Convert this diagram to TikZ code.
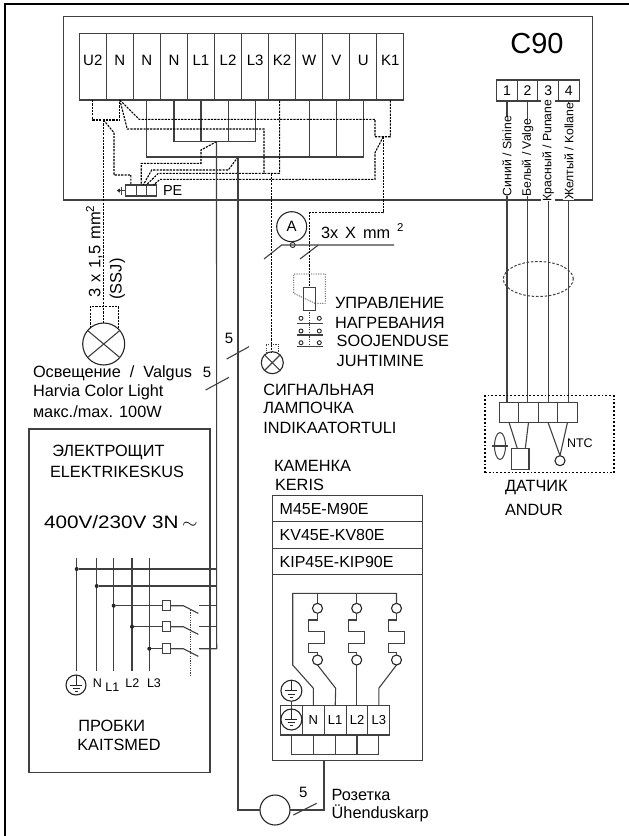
\documentclass[tikz,border=0pt]{standalone}
\usepackage{fontspec}
\setmainfont{Liberation Sans}
\usetikzlibrary{positioning, shapes.geometric}
\tikzset{
x=1pt, y=-1pt, % one unit is one pixel of the sheet, y runs downwards
every node/.style={inner sep=0pt, outer sep=0pt}, % anchors sit on the outlines
wire/.style={black!75, line width=1.1pt}, % solid leads
dwire/.style={black, line width=1.1pt, dash pattern=on 2.2pt off 1.1pt}, % dashed leads
dotwire/.style={black!75, line width=0.8pt, dash pattern=on 1.2pt off 1.2pt}, % dotted parts
box/.style={draw=black!75, line width=1.1pt, rectangle},
term/.style={box, minimum width=27.05pt, minimum height=66.3pt, text height=10pt, text depth=13pt, font=\fontsize{15}{17}\selectfont}, % big terminal strip
cterm/.style={box, minimum width=20.6pt, minimum height=21pt, font=\fontsize{14}{16}\selectfont}, % sensor terminals
aterm/.style={box, minimum width=19.5pt, minimum height=20pt},
hterm/.style={box, minimum width=21.8pt, minimum height=29.3pt, font=\fontsize{13}{15}\selectfont}, % heater terminals
row/.style={box, text width=136pt, inner xsep=7pt, minimum height=26.5pt, align=left, font=\fontsize{16}{18}\selectfont}, % heater model rows
lamp/.style={circle, draw=black!85, line width=1.1pt},
lug/.style={circle, draw=black!85, line width=1.1pt, minimum size=10pt}, % heater connection
contact/.style={circle, draw=black!85, line width=0.9pt, minimum size=4pt},
jdot/.style={circle, fill=black!85, minimum size=4pt},
earth/.style={circle, draw=black!85, line width=1.1pt, minimum size=21pt, path picture={
  \draw[line width=0.8pt] (path picture bounding box.north) -- ++(0,10.5)
    (path picture bounding box.center) ++(-6,0) -- ++(12,0) ++(-9.5,3.2) -- ++(7,0) ++(-5,3) -- ++(3,0);}},
lbl/.style={anchor=west, font=\fontsize{16.3}{18}\selectfont},
side/.style={rotate=90, fill=white, inner ysep=1pt, font=\fontsize{12.2}{14}\selectfont}, % wire colours
up/.style={rotate=90, font=\fontsize{16.5}{18}\selectfont\spaceskip 6pt\relax},
num/.style={font=\fontsize{15}{17}\selectfont},
bnum/.style={font=\fontsize{12.5}{14}\selectfont}, % names under the busbars
}
\begin{document}
\begin{tikzpicture}
            \useasboundingbox (0,0) rectangle (629,836);

            \draw[black, line width=1.2pt] (629,4) -- (5,4) -- (5,836);

            % controller
            \node[box, minimum width=528.8pt, minimum height=183.3pt] (c90box) at (327.9,108.35) {};
            \node[font=\fontsize{29}{31}\selectfont] (c90) at (537,44) {C90};

            \node[term, node distance=27.05pt] (u2) at (92.8,66.85) {U2};
            \node[term, node distance=27.05pt, right of=u2] (n1) {N};
            \node[term, node distance=27.05pt, right of=n1] (n2) {N};
            \node[term, node distance=27.05pt, right of=n2] (n3) {N};
            \node[term, node distance=27.05pt, right of=n3] (l1) {L1};
            \node[term, node distance=27.05pt, right of=l1] (l2) {L2};
            \node[term, node distance=27.05pt, right of=l2] (l3) {L3};
            \node[term, node distance=27.05pt, right of=l3] (k2) {K2};
            \node[term, node distance=27.05pt, right of=k2] (w) {W};
            \node[term, node distance=27.05pt, right of=w] (v) {V};
            \node[term, node distance=27.05pt, right of=v] (u) {U};
            \node[term, node distance=27.05pt, right of=u] (k1) {K1};

            \node[cterm] (ct1) at (507,90.5) {1};
            \node[cterm, node distance=20.6pt, right of=ct1] (ct2) {2};
            \node[cterm, node distance=20.6pt, right of=ct2] (ct3) {3};
            \node[cterm, node distance=20.6pt, right of=ct3] (ct4) {4};

            % PE block
            \node[box, minimum width=10.3pt, minimum height=11pt] (pe1) at (130.9,190.5) {};
            \node[box, minimum width=10.3pt, minimum height=11pt, right=0pt of pe1] (pe2) {};
            \node[box, minimum width=10.3pt, minimum height=11pt, right=0pt of pe2] (pe3) {};
            \node[lbl, font=\fontsize{14.5}{16}\selectfont] (pelbl) at (163,190.5) {PE};
            \draw[wire, line width=0.8pt] (pe1.west) -- ++(-9,0) ++(5,-4) -- ++(0,8);
            \fill[black!85] (pe1.west) ++(-9,0) -- ++(3,-2) -- ++(0,4) -- cycle;

            % solid busbars
            \coordinate (upbus) at (216.5,141.7);
            \coordinate (lowbus) at (238,157);
            \draw[wire] (n3.south) -- ++(0,41.7) -| (l3.south);
            \draw[wire] (l1.south) -- ++(0,41.7);
            \draw[wire] (l2.south) -- ++(0,41.7);
            \draw[wire] (n2.south) -- ++(0,57) -| (u.south);
            \draw[wire] (w.south) -- ++(0,57);
            \draw[wire] (v.south) -- ++(0,57);

            % dashed leads
            \coordinate (lampj) at (103.5,120);
            \coordinate (kj) at (264,173.3);
            \coordinate (pilotj) at (271.7,173.3);
            \coordinate (k1j) at (383.3,136.7);
            \draw[dwire] (u2.south) -- ++(0,20) -| (n1.south);
            \draw[dwire] (lampj) -- ++(10.5,12.7) -- ++(0,42.3) -| (pe1.north);
            \draw[dwire] (n1.south) -- ++(19.4,19.3) -- ++(235.7,0) -- ++(0,17.4) -| (k1.south);
            \draw[dwire] (n1.south) -- ++(7.4,29) -- ++(136.7,0) -- (kj) -| ([xshift=-2.5pt]k2.south);
            \draw[dwire] (upbus) -- ++(-15.5,8.3) -- ++(0,13.3) -| (pe2.north);
            \draw[dwire] (lowbus) -- ++(-9.7,13) -- ++(-76.6,0) -- ([xshift=2pt]pe2.north);
            \draw[dwire] (kj) -- ++(-105.7,0) -- (pe3.north west);
            \draw[dwire] (k1j) -- ++(-8.3,16) -- ++(0,26.6) -- ++(-215,0) -- ([xshift=2pt]pe3.north);

            % sensor leads
            \node[aterm] (at1) at (509,412.3) {};
            \node[aterm, node distance=19.5pt, right of=at1] (at2) {};
            \node[aterm, node distance=19.5pt, right of=at2] (at3) {};
            \node[aterm, node distance=19.5pt, right of=at3] (at4) {};
            \draw[wire] (ct1.south) -- (ct1.south |- at1.north);
            \draw[wire] (ct2.south) -- (ct2.south |- at2.north);
            \draw[wire] (ct3.south) -- (ct3.south |- at3.north);
            \draw[wire] (ct4.south) -- (ct4.south |- at4.north);
            \node[side] (blue) at (507,156) {Синий / Sinine};
            \node[side] (white) at (527.6,157.5) {Белый / Valge};
            \node[side] (red) at (548.2,150.5) {Красный / Punane};
            \node[side] (yellow) at (568.8,151.5) {Желтый / Kollane};
            \node[ellipse, draw=black!75, line width=1pt, dash pattern=on 2.5pt off 1.8pt, minimum width=70pt, minimum height=35pt] (cable) at (538.3,279) {};

            % sensor
            \node[box, dash pattern=on 1.8pt off 2pt, draw=black, minimum width=129pt, minimum height=77pt] (anduro) at (549.5,434.2) {};
            \node[box, minimum width=17.3pt, minimum height=20.7pt] (sbox) at (520.3,458.7) {};
            \node[lug] (ntc) at (560,460.7) {};
            \node[ellipse, draw=black!75, line width=1pt, minimum width=11pt, minimum height=27pt] (phase) at (500,446) {};
            \draw[wire] ([xshift=-2.8pt]phase.west) -- ([xshift=2.8pt]phase.east);
            \draw[wire] (at1.south) -- ([xshift=-3pt]sbox.north);
            \draw[wire] (at2.south) -- ([xshift=5pt]sbox.north);
            \draw[wire] (at3.south) -- (ntc.north);
            \draw[wire] (at4.south) -- (ntc.north);
            \node[font=\fontsize{12.5}{14}\selectfont, anchor=west] (ntclbl) at (567,443) {NTC};
            \node[lbl] (andur1) at (505,488) {ДАТЧИК};
            \node[lbl] (andur2) at (505,510) {ANDUR};

            % lighting
            \node[lamp, minimum size=42pt] (lampa) at (103.7,344) {};
            \draw[wire] (lampa.40) -- (lampa.220);
            \draw[wire] (lampa.140) -- (lampa.-40);
            \draw[dwire] (lampj) -- (lampj |- lampa.north);
            \draw[dwire] (lampa.130) -- ++(0,-21.3) -| (lampa.45);
            \node[up] (sect) at (94.3,251.5) {3 x 1,5 mm\textsuperscript{2}};
            \node[up] (ssj) at (117.3,279) {(SSJ)};
            \node[lbl, font=\fontsize{16.3}{18}\selectfont\spaceskip 9pt\relax] (light1) at (33,373) {Освещение / Valgus};
            \node[lbl] (light2) at (33,392.7) {Harvia Color Light};
            \node[lbl] (light3) at (33,412) {макс./max. 100W};

            % heating control
            \node[lamp, minimum size=30pt, font=\fontsize{15}{17}\selectfont] (amp) at (291.7,226.7) {A};
            \node[contact, minimum size=5pt] (ampc) at (292.7,245) {};
            \coordinate (cableL) at (264,259);
            \coordinate (cableR) at (394,245);
            \coordinate (tickc) at (300,259);
            \draw[wire] (cableL) -- ++(17.7,-14) -- (cableR);
            \draw[wire] (tickc) -- ++(18.3,-14);
            \node[lbl, font=\fontsize{16.3}{18}\selectfont\spaceskip 7pt\relax] (xmm) at (321,231) {3x X mm \textsuperscript{2}};
            \node[box, minimum width=12pt, minimum height=22.7pt] (relay) at (309.7,298.7) {};
            \coordinate (relayd) at (315,303.3);
            \draw[dwire] (k1j) -- ++(0,76) -| (relay.north);
            \draw[dotwire] (relayd) -- ++(-21.3,-10) -- ++(0,-19.3) -- ++(31.6,0) -- ++(0,29.3) -- (relayd);
            \node[contact] (c1a) at (301,318.3) {};
            \node[contact] (c1b) at (319.3,318.3) {};
            \node[contact] (c2a) at (301,331) {};
            \node[contact] (c2b) at (319.3,331) {};
            \node[contact] (c3a) at (301,342.7) {};
            \node[contact] (c3b) at (319.3,342.7) {};
            \draw[wire] (297.3,323.3) -- (322.7,323.3);
            \draw[wire] (297.3,335) -- (322.7,335);
            \draw[wire] (297.3,346.7) -- (322.7,346.7);
            \draw[dotwire] (relay.south) -- ++(0,36.7);
            \node[lbl] (ctl1) at (335,303) {УПРАВЛЕНИЕ};
            \node[lbl] (ctl2) at (335,322.7) {НАГРЕВАНИЯ};
            \node[lbl] (ctl3) at (336.7,341.3) {SOOJENDUSE};
            \node[lbl] (ctl4) at (336.7,361.3) {JUHTIMINE};

            % pilot lamp
            \node[lamp, minimum size=22pt] (lampb) at (272.3,362.7) {};
            \draw[wire] (lampb.45) -- (lampb.225);
            \draw[wire] (lampb.135) -- (lampb.-45);
            \draw[dwire] (pilotj) -- (pilotj |- lampb.north);
            \draw[dotwire] (lampb.125) -- ++(0,-9.7) -| (lampb.55);
            \node[lbl] (pil1) at (263.3,389.5) {СИГНАЛЬНАЯ};
            \node[lbl] (pil2) at (263.3,408) {ЛАМПОЧКА};
            \node[lbl] (pil3) at (263.3,428) {INDIKAATORTULI};

            % distribution board
            \node[box, minimum width=181pt, minimum height=343.3pt] (board) at (119.5,600.65) {};
            \node[lbl] (brd1) at (52.3,452) {ЭЛЕКТРОЩИТ};
            \node[lbl] (brd2) at (50,472) {ELEKTRIKESKUS};
            \node[lbl, font=\fontsize{18}{20}\selectfont, transform shape, xscale=1.15] (volt) at (44,521.7) {400V/230V 3N\,$\sim$};
            \node[lbl] (brd3) at (78.3,726) {ПРОБКИ};
            \node[lbl] (brd4) at (77.3,745) {KAITSMED};

            \coordinate (bpe) at (76.7,558.3);
            \coordinate (bn) at (96.7,558.3);
            \coordinate (bl1) at (113.7,558.3);
            \coordinate (bl2) at (132,558.3);
            \coordinate (bl3) at (149.3,558.3);
            \draw[wire] (bpe) -- ++(0,112.4);
            \draw[wire] (bn) -- ++(0,112.4);
            \draw[wire] (bl1) -- ++(0,112.4);
            \draw[wire] (bl2) -- ++(0,112.4);
            \draw[wire] (bl3) -- ++(0,112.4);
            \node[jdot] (dpe) at (76.7,569) {};
            \node[jdot] (dn) at (96.7,586) {};
            \node[jdot] (dl1) at (113.7,605.7) {};
            \node[jdot] (dl2) at (132,626.7) {};
            \node[jdot] (dl3) at (149.3,648.7) {};
            \node[box, minimum width=7.5pt, minimum height=10pt] (f1) at (166.3,605.7) {};
            \node[box, minimum width=7.5pt, minimum height=10pt] (f2) at (166.3,626.7) {};
            \node[box, minimum width=7.5pt, minimum height=10pt] (f3) at (166.3,648.7) {};
            \coordinate (sw1) at (199,605.7);
            \coordinate (sw2) at (199,626.7);
            \coordinate (sw3) at (199,648.7);
            \coordinate (main) at (216.7,648.7);

            \draw[wire] (upbus) -- (main) -- (sw3);
            \draw[wire] (dpe) -- (dpe -| main);
            \draw[wire] (dn) -- (dn -| main);
            \draw[wire] (sw1) -- (sw1 -| main);
            \draw[wire] (sw2) -- (sw2 -| main);
            \draw[wire] (dl1) -- (f1.west);
            \draw[wire] (dl2) -- (f2.west);
            \draw[wire] (dl3) -- (f3.west);
            \draw[wire] (f1.east) -- ++(13.3,0) -- ++(15,7.7);
            \draw[wire] (f2.east) -- ++(13.3,0) -- ++(15,7.7);
            \draw[wire] (f3.east) -- ++(13.3,0) -- ++(15,7.7);
            \draw[dotwire] (190,610) -- (190,677);
            \node[earth, minimum size=20pt] (epe) at (76,685) {};
            \node[bnum] (ln) at (97.3,683.3) {N};
            \node[bnum] (ll1) at (112.3,686.7) {L1};
            \node[bnum] (ll2) at (132.3,683.3) {L2};
            \node[bnum] (ll3) at (154,683.3) {L3};

            % feed cables
            \coordinate (tickb) at (226.7,359);
            \coordinate (ticka) at (205.7,390);
            \draw[wire] (tickb) -- ++(22.3,-12.3);
            \draw[wire] (ticka) -- ++(23.3,-12.7);
            \node[num] (five1) at (229,338) {5};
            \node[num] (five2) at (207,372) {5};

            % heater
            \node[lbl] (ker1) at (274,466) {КАМЕНКА};
            \node[lbl] (ker2) at (275,485) {KERIS};
            \node[row] (m45) at (347.7,508.55) {M45E-M90E};
            \node[row, node distance=26.5pt, below of=m45] (kv45) {KV45E-KV80E};
            \node[row, node distance=26.5pt, below of=kv45] (kip45) {KIP45E-KIP90E};
            \node[box, minimum width=150pt, minimum height=185.3pt, below=0pt of kip45] (keris) {};

            \node[lug] (h1t) at (317.5,608.3) {};
            \node[lug] (h2t) at (356.7,608.3) {};
            \node[lug] (h3t) at (396.5,608.3) {};
            \node[lug] (h1b) at (317.5,660) {};
            \node[lug] (h2b) at (356.7,660) {};
            \node[lug] (h3b) at (396.5,660) {};
            \draw[wire] (h1t.south) -- ++(0,6.7) -- ++(-9,0) -- ++(0,11.7) -- ++(16,0) -- ++(0,11.6) -- ++(-16,0) -- ++(0,9.4) -- ++(9,0) -- (h1b.north);
            \draw[wire] (h2t.south) -- ++(0,6.7) -- ++(-8,0) -- ++(0,11.7) -- ++(16,0) -- ++(0,11.6) -- ++(-16,0) -- ++(0,9.4) -- ++(8,0) -- (h2b.north);
            \draw[wire] (h3t.south) -- ++(0,6.7) -- ++(-8,0) -- ++(0,11.7) -- ++(16,0) -- ++(0,11.6) -- ++(-16,0) -- ++(0,9.4) -- ++(8,0) -- (h3b.north);

            \node[hterm] (kpe) at (291.6,720.35) {};
            \node[hterm, node distance=21.8pt, right of=kpe] (kn) {N};
            \node[hterm, node distance=21.8pt, right of=kn] (kl1) {L1};
            \node[hterm, node distance=21.8pt, right of=kl1] (kl2) {L2};
            \node[hterm, node distance=21.8pt, right of=kl2] (kl3) {L3};
            \node[earth] (ek1) at (291.4,719.5) {};
            \node[earth] (ek2) at (291.4,690.7) {};
            \draw[wire] (ek2.south) -- (ek1.north);
            \coordinate (rail) at (292.7,593.3);
            \draw[wire] (kn.north) -- ++(0,-17.4) -- ++(-20.7,-23.3) -- (rail) -| (h3t.north);
            \draw[wire] (h1t.north) -- (h1t |- rail);
            \draw[wire] (h2t.north) -- (h2t |- rail);
            \draw[wire] (h1b.south) -- ++(18.2,23.3) -- (kl1.north);
            \draw[wire] (h2b.south) -- (h2b.south |- kl2.north);
            \draw[wire] (h3b.south) -- ++(-17.7,23.3) -- (kl3.north);
            \draw[wire] (kpe.south) -- ++(0,19.4) -| (kl3.south);
            \draw[wire] (kn.south) -- ++(0,19.4);
            \draw[wire] (kl1.south) -- ++(0,19.4);
            \draw[wire] (kl2.south) -- ++(0,19.4);

            % junction box
            \node[lamp, minimum size=30pt] (socket) at (275,810) {};
            \draw[wire] (lowbus) |- (socket.west);
            \draw[wire] (socket.east) -| ([xshift=-23.7pt]keris.south);
            \coordinate (tickd) at (293.3,815);
            \draw[wire] (tickd) -- ++(23.4,-11.7);
            \node[num] (five3) at (303.3,792.3) {5};
            \node[lbl] (sock1) at (331.7,795) {Розетка};
            \node[lbl] (sock2) at (331.7,813) {Ühenduskarp};
\end{tikzpicture}
\end{document}
